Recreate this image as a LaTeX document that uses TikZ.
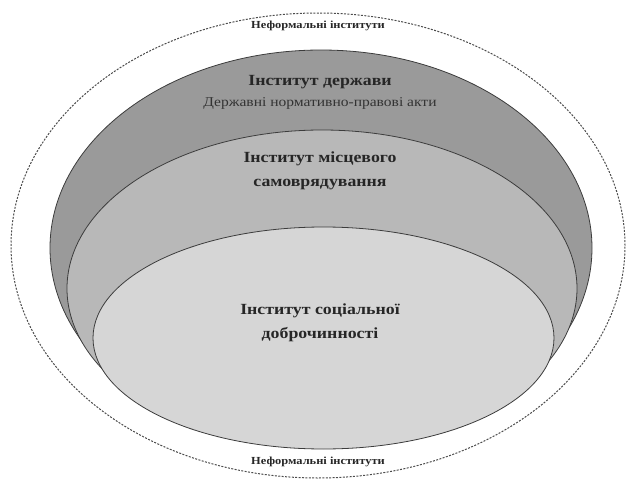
\documentclass[tikz,border=0pt]{standalone}
\usepackage{fontspec}
\setmainfont[FakeStretch=1.15]{Liberation Serif}
\usepackage{xcolor}
\usepackage{tikz}
\usetikzlibrary{shapes.geometric,positioning}
\definecolor{ringA}{HTML}{9A9A9A}
\definecolor{ringB}{HTML}{B8B8B8}
\definecolor{ringC}{HTML}{D6D6D6}
\definecolor{edge}{HTML}{3C3C3C}
\tikzset{
  lay/.style={ellipse, draw=edge, line width=0.8pt, inner sep=0pt},
  outer/.style={ellipse, draw=black!70, dash pattern=on 2pt off 1.4pt,
                line width=1pt, inner sep=0pt},
  ttl/.style={font=\fontsize{15.5}{24}\selectfont\bfseries, align=center, text=black!85},
  sub/.style={font=\fontsize{13.5}{16}\selectfont, text=black!80},
  inf/.style={font=\fontsize{10.8}{12}\selectfont\bfseries, text=black!85},
}
\begin{document}
\begin{tikzpicture}[x=1pt, y=-1pt]
\useasboundingbox (0,0) rectangle (627,482);
\node[outer, minimum width=614pt, minimum height=465pt] (infml) at (318,245.5) {};
\node[lay, fill=ringA, minimum width=542pt, minimum height=396pt] (state) at (321,248) {};
\node[lay, fill=ringB, minimum width=510pt, minimum height=317pt] (local) at (322,288.5) {};
\node[lay, fill=ringC, minimum width=461pt, minimum height=222pt] (social) at (323.5,338) {};
% labels
\node[inf] (infTop) at (318,26) {Неформальні інститути};
\node[inf] (infBot) at (318,462) {Неформальні інститути};
\node[ttl] (stateT) at (320,82) {Інститут держави};
\node[sub, below=2pt of stateT] (stateS) {Державні нормативно-правові акти};
\node[ttl] (localT) at (320,171) {Інститут місцевого\\самоврядування};
\node[ttl] (socialT) at (320,323) {Інститут соціальної\\доброчинності};
\end{tikzpicture}
\end{document}
